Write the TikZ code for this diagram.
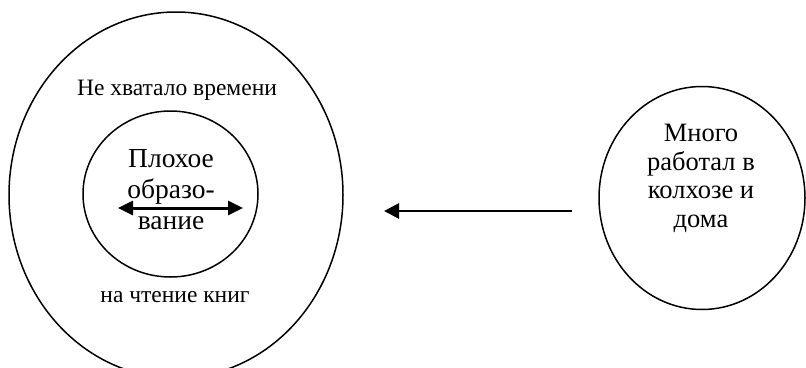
\documentclass[tikz,border=0pt]{standalone}
\usepackage{fontspec}
\setmainfont{Liberation Serif}
\usetikzlibrary{shapes.geometric,arrows.meta}
\tikzset{
  ring/.style={draw,ellipse,line width=1.5pt,inner sep=0pt},
  lbl/.style={align=center,inner sep=0pt,font=\fontsize{23.5}{28}\selectfont},
  big/.style={align=center,inner sep=0pt,font=\fontsize{27.5}{31}\selectfont},
  rbig/.style={align=center,inner sep=0pt,font=\fontsize{26.5}{28.5}\selectfont},
  arr/.style={line width=2.8pt,-{Triangle[length=15pt,width=15pt]}},
  darr/.style={line width=3pt,{Triangle[length=15pt,width=14pt]}-{Triangle[length=15pt,width=14pt]}}
}
\begin{document}
\begin{tikzpicture}[x=1pt,y=-1pt]
\useasboundingbox (0,0) rectangle (806,367);
\clip (0,0) rectangle (806,367);
\node[ring,minimum width=334pt,minimum height=366pt] (outer) at (176,195) {};
\node[ring,minimum width=175pt,minimum height=166pt] (inner) at (170.5,194) {};
\node[ring,minimum width=206pt,minimum height=223pt] (right) at (702,198) {};
\node[lbl,anchor=base] (t1) at (177,95) {Не хватало времени};
\node[lbl,anchor=base] (t2) at (175,302) {на чтение книг};
\node[big,anchor=base] (t3) at (171,229) {Плохое\\образо-\\вание};
\node[rbig,anchor=base] (t4) at (701,227) {Много\\работал в\\колхозе и\\дома};
\coordinate (a1) at (118,208);
\coordinate (a2) at (243,208);
\coordinate (b1) at (572,211);
\coordinate (b2) at (384,211);
\draw[darr] (a1) -- (a2);
\draw[arr] (b1) -- (b2);
\end{tikzpicture}
\end{document}
